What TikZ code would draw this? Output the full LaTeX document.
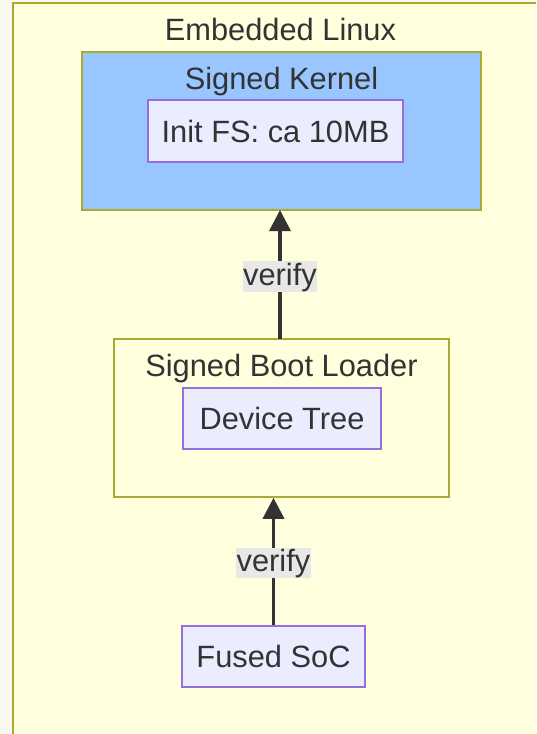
\documentclass[tikz,border=0pt]{standalone}
\usepackage{fontspec}
\setmainfont{Liberation Sans}
\usetikzlibrary{arrows.meta}
\definecolor{pagebg}{HTML}{FAF8EE}
\definecolor{clusterfill}{HTML}{FFFFDE}
\definecolor{clusterline}{HTML}{AAAA33}
\definecolor{kernelfill}{HTML}{99C6FF}
\definecolor{nodefill}{HTML}{ECECFF}
\definecolor{nodeline}{HTML}{9370DB}
\definecolor{textgrey}{HTML}{333333}
\definecolor{labelbg}{HTML}{E8E8E8}
\newcommand{\diagfont}{\fontsize{30.8}{37}\selectfont}
\tikzset{
  cluster/.style={draw=clusterline, line width=1.6pt, fill=clusterfill},
  leafbox/.style={draw=nodeline, line width=1.6pt, fill=nodefill, inner sep=0pt,
    text=textgrey, font=\diagfont},
  title/.style={anchor=base, inner sep=0pt, text=textgrey, font=\diagfont},
  edgelabel/.style={fill=labelbg, text=textgrey, inner xsep=0.5pt, inner ysep=0.5pt,
    text height=23.5pt, text depth=6pt, font=\diagfont},
  flow/.style={draw=textgrey, line width=3.6pt, -{Triangle[length=21pt,width=21pt]}},
}
\begin{document}
\begin{tikzpicture}[x=1pt,y=-1pt]
  \useasboundingbox (0,0) rectangle (536,734);
  \fill[pagebg] (0,0) rectangle (536,734);
  \begin{scope}
    \clip (0,0) rectangle (536,734);
    % outer group
    \draw[cluster] (13,3) rectangle (570,770);
  \end{scope}
  \node[title] (linuxtitle) at (280.5,40) {Embedded Linux};

  % kernel group
  \node[draw=clusterline, line width=1.6pt, fill=kernelfill, minimum width=399pt,
        minimum height=158pt, inner sep=0pt] (kernel) at (281.5,131) {};
  \node[title] (kerneltitle) at (281.5,89) {Signed Kernel};
  \node[leafbox, minimum width=255pt, minimum height=62pt] (initfs) at (275.5,131)
    {\raisebox{-1pt}{Init FS: ca 10MB}};

  % boot loader group
  \node[cluster, minimum width=335pt, minimum height=158pt, inner sep=0pt] (boot) at (281.5,418) {};
  \node[title] (boottitle) at (281.5,376) {Signed Boot Loader};
  \node[leafbox, minimum width=198pt, minimum height=61pt] (devtree) at (282,418.5)
    {\raisebox{-1pt}{Device Tree}};

  % SoC
  \node[leafbox, minimum width=183pt, minimum height=61pt] (soc) at (273.5,656.5)
    {\raisebox{-1pt}{Fused SoC}};

  % verification chain
  \draw[flow] (280,338.5) coordinate (bootTop) -- (280,210) coordinate (kernelBottom)
    node[edgelabel, midway, yshift=-2pt] (verifyA) {verify};
  \draw[flow] (soc.north) -- (soc.north |- boot.south)
    node[edgelabel, midway, yshift=-1.5pt] (verifyB) {verify};
\end{tikzpicture}
\end{document}
